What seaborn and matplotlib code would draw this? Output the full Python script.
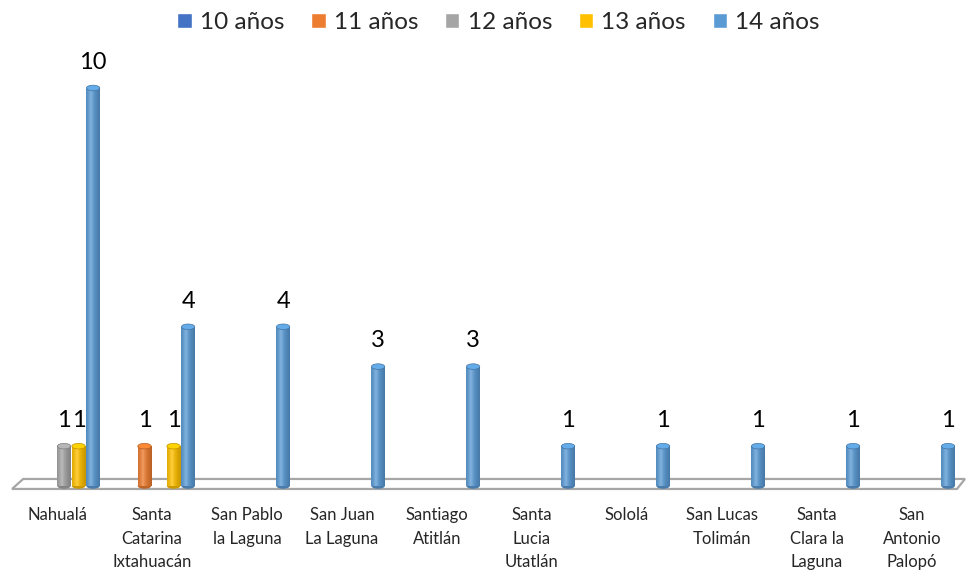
import numpy as np
import pandas as pd
import matplotlib
matplotlib.use("Agg")
import matplotlib.pyplot as plt
import matplotlib.colors as mcolors
from matplotlib.patches import Ellipse, Polygon
from matplotlib.transforms import ScaledTranslation
import seaborn as sns

# ── data ──────────────────────────────────────────────────
municipios = [
    'Nahualá', 'Santa\nCatarina\nIxtahuacán', 'San Pablo\nla Laguna',
    'San Juan\nLa Laguna', 'Santiago\nAtitlán', 'Santa\nLucia\nUtatlán',
    'Sololá', 'San Lucas\nTolimán', 'Santa\nClara la\nLaguna',
    'San\nAntonio\nPalopó',
]
edades = ['10 años', '11 años', '12 años', '13 años', '14 años']
colores = ['#4472C4', '#ED7D31', '#A5A5A5', '#FFC000', '#5B9BD5']

nan = np.nan
anios_10 = [nan, nan, nan, nan, nan, nan, nan, nan, nan, nan]
anios_11 = [nan, 1, nan, nan, nan, nan, nan, nan, nan, nan]
anios_12 = [1, nan, nan, nan, nan, nan, nan, nan, nan, nan]
anios_13 = [1, 1, nan, nan, nan, nan, nan, nan, nan, nan]
anios_14 = [10, 4, 4, 3, 3, 1, 1, 1, 1, 1]

series = [anios_10, anios_11, anios_12, anios_13, anios_14]
rows = []
for edad, vals in zip(edades, series):
    for m, v in zip(municipios, vals):
        rows.append({'Municipio': m, 'Edad': edad, 'Casos': v})
df = pd.DataFrame(rows).dropna()

# ── style ─────────────────────────────────────────────────
sns.set_style("white")
plt.rcParams['font.family'] = ['Lato', 'DejaVu Sans']

fig = plt.figure(figsize=(9.66, 5.71), dpi=100)
ax = fig.add_axes([0.0171, 0.1489, 0.9834, 0.7667])

sns.barplot(data=df, x='Municipio', y='Casos', hue='Edad',
            order=municipios, hue_order=edades, palette=colores,
            saturation=1, errorbar=None, width=0.765, gap=0.08, ax=ax)

# floor of the 3d chart
floor = Polygon([(-0.547, -0.075), (-0.43, 0.176), (9.484, 0.176), (9.40, -0.075)],
                closed=True, facecolor='white', edgecolor='#A6A6A6',
                lw=1.6, zorder=0.5, clip_on=False)
ax.add_patch(floor)

# fake cylinders: gradient body + elliptic caps
eh = 0.14
for p in list(ax.patches):
    if p is floor:
        continue
    h = p.get_height()
    if not np.isfinite(h) or h == 0:
        continue
    x, w = p.get_x(), p.get_width()
    c = np.array(mcolors.to_rgb(p.get_facecolor()))
    t = np.linspace(0, 1, 40)
    light = np.clip(1 - np.abs(t - 0.35) / 0.65, 0, 1)
    grad = c * (0.78 + 0.22 * light)[:, None] + (1 - c) * (0.25 * light ** 3)[:, None]
    p.set_facecolor(c * 0.8)
    p.set_edgecolor('none')
    p.set_zorder(2)
    img = ax.imshow(np.clip(grad, 0, 1)[None, :, :], extent=[x, x + w, 0, h],
                    aspect='auto', interpolation='bilinear', zorder=2.1)
    img.set_clip_path(p)
    ax.add_patch(Ellipse((x + w / 2, 0), w, eh, facecolor=c * 0.8,
                         edgecolor='none', zorder=1.9, clip_on=False))
    ax.add_patch(Ellipse((x + w / 2, h), w, eh, facecolor=np.clip(c * 1.1, 0, 1),
                         edgecolor=c * 0.75, lw=0.5, zorder=2.2, clip_on=False))

for cont in ax.containers:
    ax.bar_label(cont, fmt='%g', padding=11, fontsize=17, color='black')

ax.set_xlim(-0.5, 9.5)
ax.set_ylim(0, 11)
ax.set_xlabel('')
ax.set_ylabel('')
ax.set_yticks([])
sns.despine(ax=ax, left=True, bottom=True)
ax.tick_params(axis='x', length=0, pad=15, labelsize=12)
off = ScaledTranslation(-7 / 100, 0, fig.dpi_scale_trans)
for lab in ax.get_xticklabels():
    lab.set_linespacing(1.6)
    lab.set_transform(lab.get_transform() + off)

handles, labels = ax.get_legend_handles_labels()
if ax.get_legend() is not None:
    ax.get_legend().remove()
fig.legend(handles, labels, loc='upper center', bbox_to_anchor=(0.516, 1.017),
           ncol=5, frameon=False, fontsize=17.5, handlelength=0.6,
           handleheight=0.6, handletextpad=0.33, columnspacing=1.1)

fig.savefig('out.png', dpi=100)
